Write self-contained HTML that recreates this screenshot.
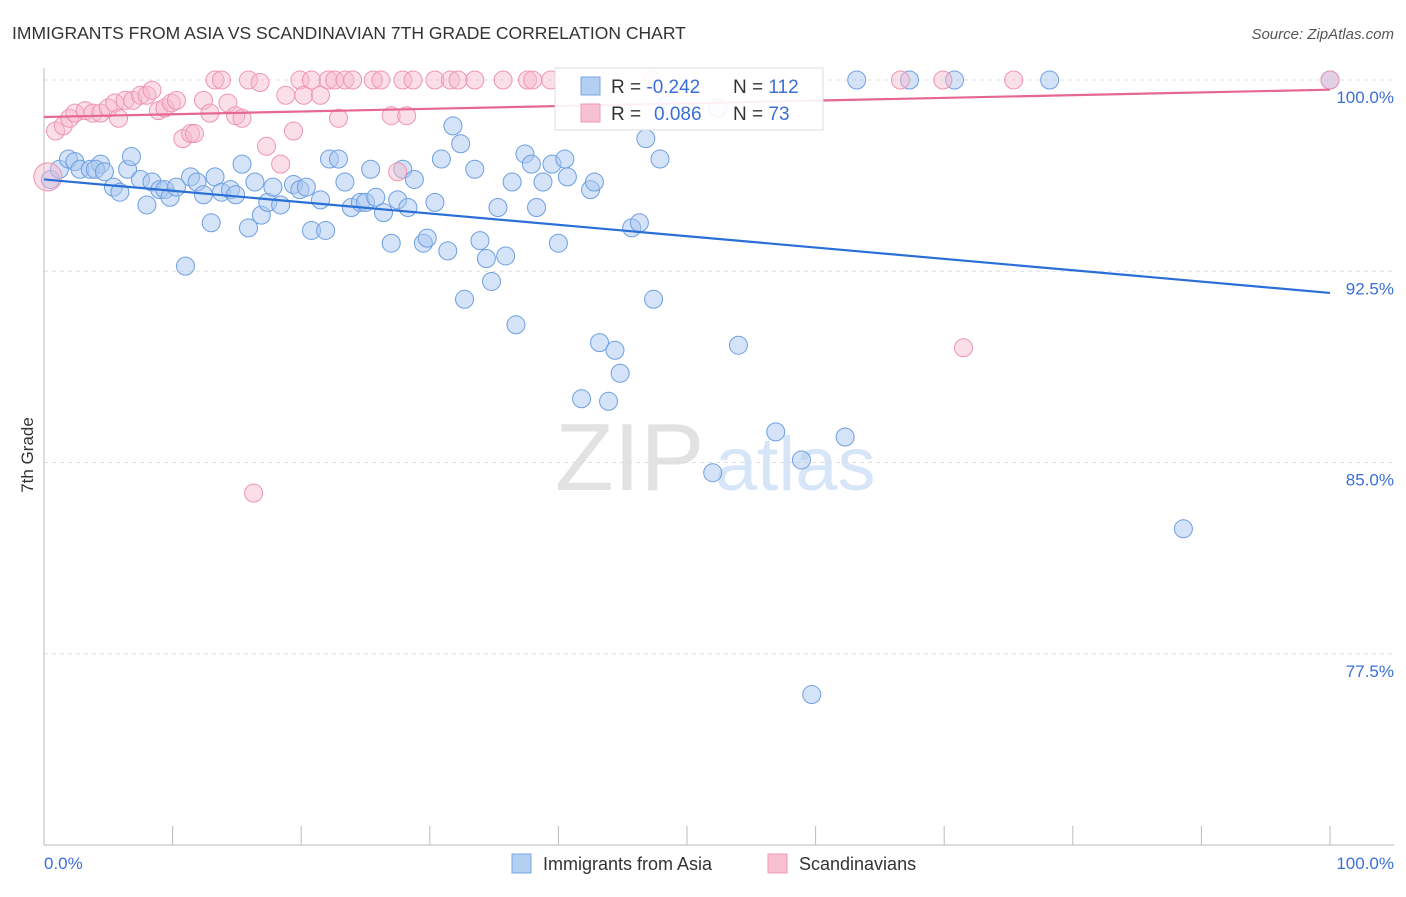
<!DOCTYPE html>
<html><head><meta charset="utf-8"><style>
body{margin:0;background:#fff;font-family:"Liberation Sans",sans-serif}
svg text{font-family:"Liberation Sans",sans-serif}
</style></head><body>
<svg id="chart" width="1406" height="892">
<text x="12" y="39" font-size="17.5" fill="#333">IMMIGRANTS FROM ASIA VS SCANDINAVIAN 7TH GRADE CORRELATION CHART</text>
<text x="1394" y="39" font-size="15" fill="#555" text-anchor="end" font-style="italic">Source: ZipAtlas.com</text>
<g>
<text x="555" y="490" font-size="96" fill="#e2e2e2" font-family="Liberation Serif,serif">ZIP</text>
<text x="715" y="490" font-size="76" fill="#d6e5f7">atlas</text>
</g>
<g id="grid"></g>
<g id="axes"></g>
<g id="pts"></g>
<g id="lines"></g>
<text transform="translate(33,455) rotate(-90)" font-size="17" fill="#333" text-anchor="middle">7th Grade</text>
<text x="44" y="869" font-size="17" fill="#3a6fd8">0.0%</text>
<text x="1394" y="869" font-size="17" fill="#3a6fd8" text-anchor="end">100.0%</text>
<g>
<rect x="555" y="68" width="268" height="62" fill="#fff" fill-opacity="0.9" stroke="#ddd"/>
<rect x="581" y="77" width="19" height="18" fill="#b3cff2" stroke="#7aa6e4"/>
<rect x="581" y="104" width="19" height="18" fill="#f7c1d2" stroke="#ef9bb7"/>
<text x="611" y="93" font-size="19" fill="#333">R = <tspan fill="#3a6fd8">-0.242</tspan></text>
<text x="733" y="93" font-size="19" fill="#333">N = <tspan fill="#3a6fd8">112</tspan></text>
<text x="611" y="120" font-size="19" fill="#333">R = <tspan fill="#3a6fd8" x="654">0.086</tspan></text>
<text x="733" y="120" font-size="19" fill="#333">N = <tspan fill="#3a6fd8"> 73</tspan></text>
</g>
<g>
<rect x="512" y="854" width="19" height="19" fill="#b3cff2" stroke="#7aa6e4"/>
<text x="543" y="870" font-size="18" fill="#333">Immigrants from Asia</text>
</g>
<g>
<rect x="768" y="854" width="19" height="19" fill="#f7c1d2" stroke="#ef9bb7"/>
<text x="799" y="870" font-size="18" fill="#333">Scandinavians</text>
</g>
</svg>
<script>
const yTicks=[100,92.5,85,77.5];
const yTickLabels=["100.0%","92.5%","85.0%","77.5%"];
const xTicks=[0,10,20,30,40,50,60,70,80,90,100];
const asiaX=[0.5,1.2,1.9,2.4,2.8,3.6,4.4,4.0,4.7,5.4,5.9,6.5,6.8,7.5,8.0,8.4,9.0,9.4,9.8,10.3,11.0,11.4,11.9,12.4,13.0,13.3,13.8,14.5,14.9,15.4,15.9,16.4,16.9,17.4,17.8,18.4,19.4,19.9,20.4,20.8,21.5,21.9,22.2,22.9,23.4,23.9,24.6,25.0,25.4,25.8,26.4,27.0,27.5,27.9,28.3,28.8,29.5,29.8,30.4,30.9,31.4,31.8,32.4,32.7,33.5,33.9,34.4,34.8,35.3,35.9,36.4,36.7,37.4,37.9,38.3,38.8,39.5,40.0,40.5,40.7,41.8,42.5,42.8,43.2,43.9,44.4,44.8,45.7,46.3,46.8,47.4,47.9,48.4,52.0,52.4,54.0,56.9,58.9,59.7,62.3,63.2,67.3,70.8,78.2,88.6,100];
const asiaY=[96.1,96.5,96.9,96.8,96.5,96.5,96.7,96.5,96.4,95.8,95.6,96.5,97.0,96.1,95.1,96.0,95.7,95.7,95.4,95.8,92.7,96.2,96.0,95.5,94.4,96.2,95.6,95.7,95.5,96.7,94.2,96.0,94.7,95.2,95.8,95.1,95.9,95.7,95.8,94.1,95.3,94.1,96.9,96.9,96.0,95.0,95.2,95.2,96.5,95.4,94.8,93.6,95.3,96.5,95.0,96.1,93.6,93.8,95.2,96.9,93.3,98.2,97.5,91.4,96.5,93.7,93.0,92.1,95.0,93.1,96.0,90.4,97.1,96.7,95.0,96.0,96.7,93.6,96.9,96.2,87.5,95.7,96.0,89.7,87.4,89.4,88.5,94.2,94.4,97.7,91.4,96.9,99.0,84.6,98.9,89.6,86.2,85.1,75.9,86.0,100,100,100,100,82.4,100];
const scanX=[0.9,0.3,1.5,2.0,2.4,3.2,3.8,4.4,5.0,5.5,5.8,6.3,6.9,7.5,8.0,8.4,8.9,9.4,9.9,10.3,10.8,11.4,11.7,12.4,12.9,13.3,13.8,14.3,14.9,15.4,15.9,16.3,16.8,17.3,18.4,18.8,19.4,19.9,20.2,20.8,21.5,22.1,22.6,22.9,23.4,24.0,25.6,26.2,27.0,27.5,27.9,28.2,28.7,30.4,31.6,32.2,33.5,35.7,37.6,38.0,39.4,47.3,66.6,69.9,71.5,75.4,100];
const scanY=[98.0,96.2,98.2,98.5,98.7,98.8,98.7,98.7,98.9,99.1,98.5,99.2,99.2,99.4,99.4,99.6,98.8,98.9,99.1,99.2,97.7,97.9,97.9,99.2,98.7,100,100,99.1,98.6,98.5,100,83.8,99.9,97.4,96.7,99.4,98.0,100,99.4,100,99.4,100,100,98.5,100,100,100,100,98.6,96.4,100,98.6,100,100,100,100,100,100,100,100,100,100,100,100,89.5,100,100];
const asiaTrend=[96.1,91.65];
const scanTrend=[98.55,99.62];
const NS="http://www.w3.org/2000/svg";
const X=v=>44+v*12.86;
const Y=v=>80+(100-v)*25.5;
function mk(t,a,p){const e=document.createElementNS(NS,t);for(const k in a)e.setAttribute(k,a[k]);p.appendChild(e);return e;}
const grid=document.getElementById('grid'),axes=document.getElementById('axes'),pts=document.getElementById('pts'),lines=document.getElementById('lines');
yTicks.forEach((t,i)=>{
 const l=mk('line',{x1:44,x2:1394,y1:Y(t),y2:Y(t),stroke:'#ddd','stroke-dasharray':'4,4'},grid);
 
 
 const tx=mk('text',{x:1394,y:Y(t)+23,'font-size':17,fill:'#3a6fd8','text-anchor':'end'},grid);
 tx.textContent=yTickLabels[i];
 
 
});
const ax=mk('line',{x1:44,x2:44,y1:68,y2:845,stroke:'#bbb'},axes);


const bx=mk('line',{x1:44,x2:1394,y1:845,y2:845,stroke:'#bbb'},axes);


xTicks.forEach(t=>{
 const l=mk('line',{x1:X(t),x2:X(t),y1:826,y2:845,stroke:'#bbb'},axes);
 
 
});
asiaX.forEach((v,i)=>{
 const c=mk('circle',{cx:X(v),cy:Y(asiaY[i]),r:9,fill:'#a9c8f0','fill-opacity':0.5,stroke:'#6d9fe2','stroke-width':1},pts);
 
 
});
scanX.forEach((v,i)=>{
 const c=mk('circle',{cx:X(v),cy:Y(scanY[i]),r:(i==1?14:9),fill:'#f6b9cd','fill-opacity':0.45,stroke:'#ee94b2','stroke-width':1},pts);
 
 
});
const bl=mk('line',{x1:X(0),y1:Y(asiaTrend[0]),x2:X(100),y2:Y(asiaTrend[1]),stroke:'#2a6fd6','stroke-width':2.2},lines);


const pl=mk('line',{x1:X(0),y1:Y(scanTrend[0]),x2:X(100),y2:Y(scanTrend[1]),stroke:'#e6678f','stroke-width':2.2},lines);


</script>
</body></html>
